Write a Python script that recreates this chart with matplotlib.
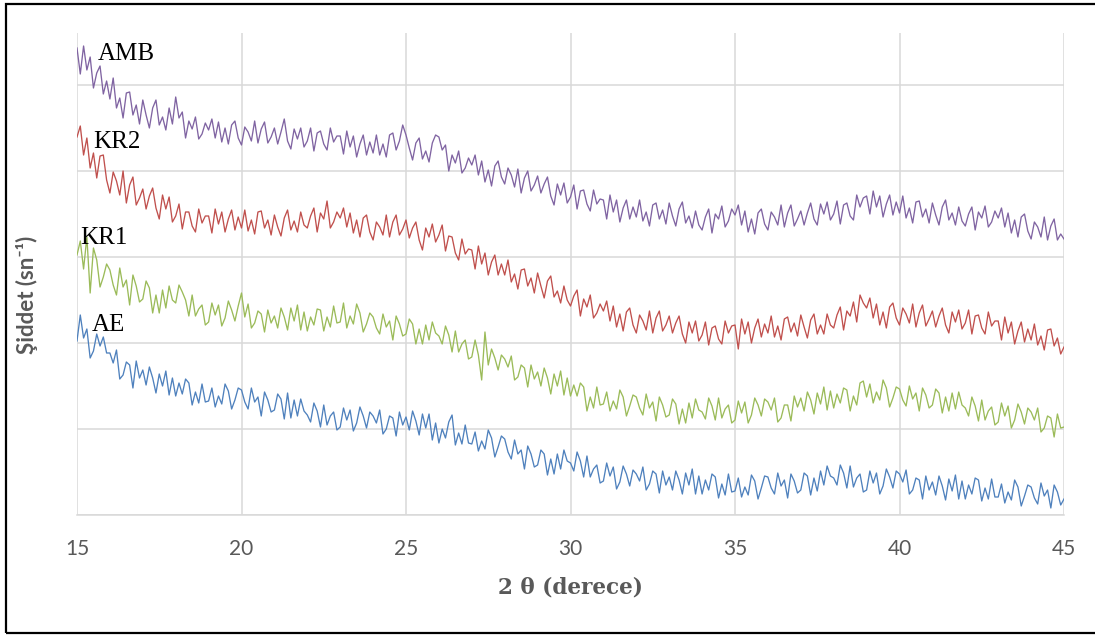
import numpy as np
import matplotlib.pyplot as plt
from matplotlib.patches import Rectangle
from matplotlib.ticker import MultipleLocator

# 2-theta scan, 0.1 degree step
two_theta = np.round(np.arange(15.0, 45.05, 0.1), 1)

# intensities (arbitrary units, curves stacked with an offset)
amb = [
    467, 441, 469, 445, 458, 427, 442, 449, 421, 434,
    416, 437, 407, 417, 397, 422, 423, 400, 410, 391,
    415, 400, 387, 407, 415, 390, 398, 385, 407, 391,
    418, 397, 403, 377, 394, 386, 398, 376, 381, 392,
    385, 396, 377, 393, 373, 387, 371, 390, 394, 377,
    370, 388, 383, 374, 394, 372, 386, 393, 372, 378,
    387, 371, 383, 396, 374, 366, 386, 376, 387, 368,
    374, 387, 364, 382, 384, 371, 365, 387, 373, 379,
    379, 361, 384, 368, 379, 358, 371, 380, 360, 373,
    362, 380, 360, 371, 358, 380, 382, 365, 374, 390,
    380, 367, 355, 372, 377, 356, 364, 353, 372, 380,
    378, 365, 370, 344, 360, 352, 364, 342, 347, 357,
    350, 360, 340, 354, 333, 345, 329, 349, 354, 338,
    331, 347, 340, 328, 346, 322, 337, 344, 324, 330,
    339, 322, 331, 338, 319, 310, 331, 320, 332, 312,
    318, 330, 306, 324, 325, 311, 304, 325, 311, 316,
    315, 296, 320, 303, 315, 293, 307, 315, 296, 308,
    298, 315, 294, 303, 289, 310, 312, 296, 305, 291,
    312, 299, 289, 306, 313, 292, 299, 287, 304, 290,
    285, 298, 306, 282, 301, 296, 309, 288, 294, 306,
    300, 310, 290, 304, 283, 296, 281, 302, 306, 291,
    285, 303, 298, 290, 310, 288, 302, 310, 289, 296,
    304, 290, 302, 312, 296, 290, 311, 301, 313, 295,
    301, 314, 291, 310, 312, 299, 295, 320, 308, 317,
    319, 301, 324, 308, 319, 298, 311, 320, 300, 313,
    302, 319, 297, 307, 292, 313, 314, 298, 306, 292,
    312, 300, 290, 308, 315, 295, 302, 290, 308, 294,
    289, 301, 308, 285, 303, 297, 309, 288, 293, 304,
    297, 307, 288, 302, 282, 295, 278, 298, 301, 284,
    276, 293, 288, 278, 298, 275, 289, 296, 275, 281,
    276,
]

kr2 = [
    378, 389, 360, 377, 347, 362, 337, 359, 360, 335,
    322, 343, 334, 320, 344, 312, 330, 338, 310, 317,
    326, 306, 319, 327, 307, 296, 320, 306, 318, 293,
    299, 311, 286, 303, 303, 289, 283, 306, 292, 299,
    299, 282, 306, 291, 303, 283, 296, 305, 285, 298,
    287, 305, 284, 295, 281, 303, 304, 287, 295, 280,
    300, 288, 279, 297, 305, 285, 294, 283, 303, 290,
    287, 299, 307, 283, 302, 296, 314, 287, 293, 303,
    297, 307, 288, 302, 282, 295, 278, 297, 300, 283,
    275, 293, 288, 280, 300, 278, 293, 300, 280, 286,
    295, 277, 287, 293, 275, 265, 287, 278, 291, 273,
    280, 290, 264, 279, 278, 262, 255, 276, 261, 266,
    265, 246, 269, 251, 262, 240, 253, 260, 240, 251,
    240, 255, 233, 241, 226, 245, 246, 229, 237, 222,
    242, 229, 217, 234, 239, 218, 224, 212, 229, 215,
    209, 219, 225, 199, 216, 208, 220, 197, 202, 211,
    204, 214, 194, 209, 188, 201, 184, 203, 207, 190,
    182, 200, 194, 185, 204, 182, 197, 204, 184, 190,
    199, 182, 192, 199, 181, 172, 193, 182, 194, 174,
    180, 193, 170, 187, 189, 176, 171, 194, 182, 189,
    190, 166, 196, 181, 193, 172, 187, 196, 178, 191,
    182, 199, 178, 189, 175, 196, 198, 183, 192, 179,
    200, 188, 177, 195, 201, 181, 190, 181, 201, 190,
    187, 200, 208, 185, 204, 199, 213, 193, 220, 212,
    207, 217, 197, 211, 190, 203, 187, 208, 212, 197,
    190, 207, 201, 192, 211, 188, 202, 210, 189, 196,
    204, 188, 199, 207, 190, 182, 203, 193, 205, 186,
    192, 205, 181, 199, 200, 187, 181, 203, 189, 194,
    194, 175, 198, 182, 193, 171, 184, 193, 173, 186,
    175, 191, 170, 179, 165, 185, 186, 169, 177, 161,
    168,
]

kr1 = [
    260, 274, 246, 278, 222, 267, 255, 228, 238, 251,
    245, 230, 220, 247, 228, 235, 210, 240, 229, 213,
    216, 234, 227, 202, 220, 202, 225, 207, 229, 215,
    212, 230, 223, 215, 199, 220, 199, 206, 210, 190,
    193, 212, 200, 210, 189, 197, 214, 205, 194, 209,
    222, 198, 211, 187, 192, 204, 201, 183, 205, 192,
    199, 187, 207, 198, 185, 207, 194, 210, 185, 203,
    184, 198, 190, 206, 205, 184, 198, 188, 209, 192,
    193, 212, 187, 199, 191, 211, 202, 183, 191, 202,
    198, 187, 181, 201, 188, 194, 175, 199, 191, 179,
    181, 196, 191, 171, 186, 171, 190, 175, 193, 182,
    179, 171, 189, 180, 163, 184, 163, 171, 175, 156,
    158, 175, 160, 135, 183, 150, 166, 157, 145, 160,
    156, 148, 159, 135, 138, 150, 147, 128, 150, 136,
    143, 129, 147, 137, 121, 141, 129, 144, 120, 137,
    119, 130, 119, 132, 128, 104, 118, 107, 128, 110,
    111, 123, 104, 114, 106, 125, 118, 99, 109, 120,
    118, 107, 100, 121, 107, 113, 94, 118, 110, 98,
    100, 116, 111, 91, 106, 92, 112, 97, 116, 105,
    103, 96, 117, 109, 95, 117, 97, 106, 110, 92,
    95, 114, 102, 113, 92, 100, 117, 110, 99, 116,
    113, 105, 117, 93, 97, 110, 110, 94, 119, 108,
    117, 104, 123, 115, 101, 122, 111, 128, 105, 124,
    107, 121, 112, 127, 125, 104, 119, 110, 132, 134,
    118, 131, 112, 123, 115, 135, 127, 108, 117, 128,
    126, 115, 109, 129, 116, 122, 104, 127, 120, 107,
    110, 126, 122, 102, 118, 104, 122, 106, 123, 110,
    107, 99, 118, 109, 94, 115, 95, 104, 108, 90,
    93, 112, 99, 109, 87, 95, 111, 103, 91, 107,
    103, 95, 107, 83, 87, 99, 97, 78, 101, 87,
    88,
]

ae = [
    174, 200, 177, 186, 157, 164, 181, 169, 178, 162,
    162, 152, 165, 136, 140, 153, 150, 127, 154, 137,
    145, 130, 148, 137, 122, 141, 129, 144, 120, 137,
    119, 132, 121, 136, 132, 110, 123, 112, 131, 113,
    114, 127, 108, 119, 111, 131, 124, 106, 115, 127,
    125, 113, 106, 127, 113, 118, 99, 123, 115, 103,
    105, 121, 116, 96, 122, 97, 115, 99, 116, 104,
    100, 93, 112, 104, 88, 110, 90, 99, 103, 85,
    88, 107, 95, 105, 84, 92, 108, 99, 87, 103,
    99, 92, 105, 81, 86, 99, 97, 79, 103, 90,
    98, 85, 104, 94, 80, 101, 87, 101, 75, 92,
    72, 86, 77, 93, 100, 70, 82, 71, 90, 72,
    71, 83, 64, 74, 66, 85, 77, 58, 68, 79,
    76, 63, 56, 75, 61, 65, 46, 69, 61, 48,
    50, 65, 61, 40, 56, 41, 61, 46, 65, 54,
    52, 44, 63, 54, 38, 59, 38, 46, 50, 32,
    34, 52, 39, 48, 26, 33, 49, 41, 29, 45,
    41, 34, 48, 25, 31, 44, 41, 22, 44, 30,
    38, 25, 44, 35, 21, 42, 30, 46, 21, 39,
    21, 35, 25, 41, 38, 17, 31, 20, 41, 23,
    24, 37, 18, 28, 20, 40, 34, 16, 27, 39,
    38, 27, 21, 42, 29, 35, 17, 41, 34, 22,
    25, 42, 39, 20, 37, 24, 44, 30, 49, 39,
    37, 30, 50, 42, 27, 49, 28, 37, 41, 23,
    25, 44, 32, 42, 21, 29, 46, 38, 27, 44,
    41, 33, 45, 21, 25, 37, 35, 16, 39, 25,
    33, 20, 39, 29, 15, 36, 24, 40, 16, 34,
    16, 30, 21, 37, 35, 14, 27, 16, 36, 18,
    18, 31, 12, 23, 15, 35, 28, 9, 19, 30,
    28, 17, 11, 32, 19, 25, 7, 30, 23, 10,
    16,
]

names = ['AE', 'KR1', 'KR2', 'AMB']
colors = ['#4F81BD', '#9BBB59', '#C0504D', '#8064A2']
label_pos = {'AE': (15.46, 184), 'KR1': (15.09, 271), 'KR2': (15.49, 367), 'AMB': (15.64, 455)}

fig = plt.figure(figsize=(10.95, 6.35), dpi=100)
ax = fig.add_axes([77 / 1095, 120 / 635, 987 / 1095, 482 / 635])

for name, ys, c in zip(names, [ae, kr1, kr2, amb], colors):
    ax.plot(two_theta, ys, color=c, lw=0.95)
    lx, ly = label_pos[name]
    ax.text(lx, ly, name, fontsize=18, family='Liberation Serif', color='black',
            ha='left', va='baseline')

ax.set_xlim(15, 45)
ax.set_ylim(0, 482)
ax.xaxis.set_major_locator(MultipleLocator(5))
ax.yaxis.set_major_locator(MultipleLocator(86))
ax.grid(True, color='#D9D9D9', lw=1.1)
ax.set_axisbelow(True)
for s in ['left', 'right', 'top']:
    ax.spines[s].set_visible(False)
ax.spines['bottom'].set_color('#D9D9D9')
ax.spines['bottom'].set_linewidth(1.1)
ax.tick_params(axis='x', length=0, pad=17, labelsize=15, labelcolor='#595959')
ax.tick_params(axis='y', length=0, labelleft=False)
for t in ax.get_xticklabels():
    t.set_family('Lato')

ax.set_xlabel('2 θ (derece)', fontsize=15.5, fontweight='bold', color='#595959',
              family='DejaVu Serif', labelpad=13)
ax.set_ylabel('Şiddet (sn⁻¹)', fontsize=16, fontweight='bold', color='#595959',
              family=['Lato', 'DejaVu Sans'])
ax.yaxis.set_label_coords(-0.0395, 0.456)

# frame around the whole chart
fig.add_artist(Rectangle((6 / 1095, 2 / 635), 1.0, 629 / 635, transform=fig.transFigure,
                         fill=False, edgecolor='black', lw=1.6, clip_on=True))

fig.savefig('out.png', dpi=100)
